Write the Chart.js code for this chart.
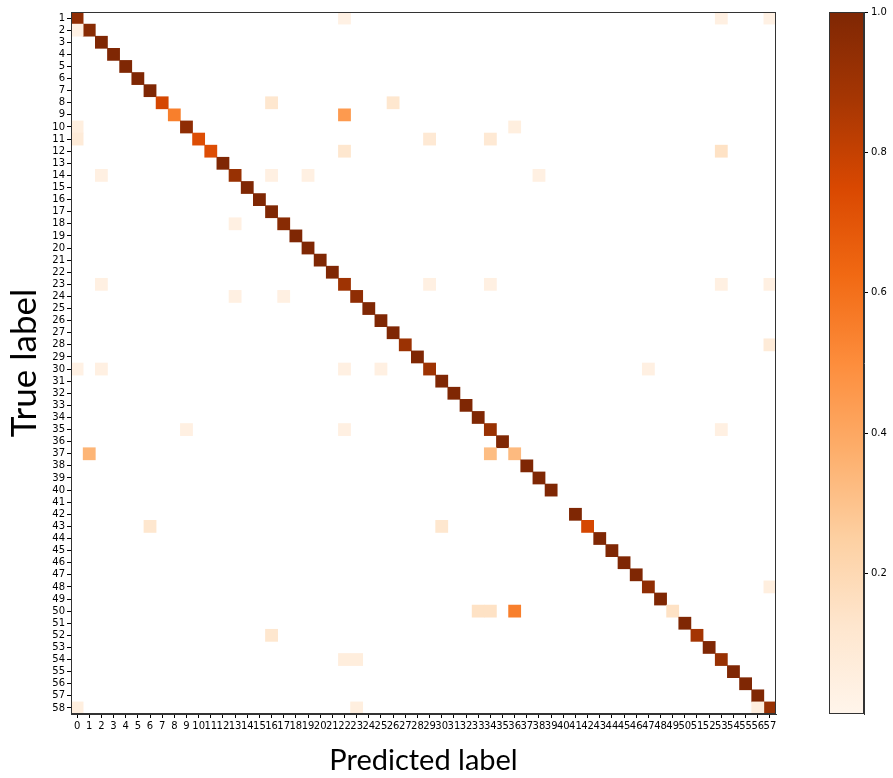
<!DOCTYPE html>
<html><head><meta charset="utf-8">
<script src="https://cdn.jsdelivr.net/npm/chart.js@4.4.1/dist/chart.umd.min.js"></script>
<style>
html,body{margin:0;padding:0;background:#fff;}
#wrap{position:relative;width:893px;height:778px;overflow:hidden;}
#main{position:absolute;left:0;top:0;}
#cbar{position:absolute;left:829px;top:0;}
</style></head><body>
<div id="wrap">
<canvas id="main" width="893" height="778"></canvas>
<canvas id="cbar" width="64" height="778"></canvas>
</div>
<script>
// ---- data ----
const trueLabels = [1,2,3,4,5,6,7,8,9,10,11,12,13,14,15,16,17,18,19,20,21,22,23,24,25,26,27,28,29,30,
  31,32,33,34,35,36,37,38,39,40,41,42,43,44,45,46,47,48,49,50,51,52,53,54,55,56,57,58];
const predLabels = [0,1,2,3,4,5,6,7,8,9,10,11,12,13,14,15,16,17,18,19,20,21,22,23,24,25,26,27,28,29,
  30,31,32,33,34,35,36,37,38,39,40,41,42,43,44,45,46,47,48,49,50,51,52,53,54,55,56,57];
// value on the diagonal (true label i+1 predicted as i); null = empty row
const diagonalValues = [0.95,0.97,1,1,1,1,1,0.76,0.55,0.95,0.73,0.73,1,0.92,1,1,1,0.97,1,1,
  1,1,0.9,0.95,1,1,1,0.91,1,0.9,1,1,1,1,0.92,1,0.33,1,1,1,
  null,1,0.76,1,1,1,1,0.95,1,0.15,1,0.88,1,0.92,1,1,1,0.92];
// off-diagonal cells: [true label, predicted label, value]
const offDiagonal = [
  [1,22,0.03],[1,53,0.04],[1,57,0.03],
  [2,0,0.03],
  [8,16,0.12],[8,26,0.12],
  [9,22,0.45],
  [10,0,0.05],[10,36,0.05],
  [11,0,0.08],[11,29,0.1],[11,34,0.1],
  [12,22,0.12],[12,53,0.15],
  [14,2,0.04],[14,16,0.04],[14,19,0.04],[14,38,0.04],
  [18,13,0.04],
  [23,2,0.04],[23,29,0.04],[23,34,0.04],[23,53,0.04],[23,57,0.04],
  [24,13,0.04],[24,17,0.04],
  [28,57,0.08],
  [30,0,0.03],[30,2,0.04],[30,22,0.04],[30,25,0.04],[30,47,0.04],
  [35,9,0.04],[35,22,0.04],[35,53,0.04],
  [37,1,0.35],[37,34,0.32],
  [43,6,0.12],[43,30,0.12],
  [48,57,0.05],
  [50,33,0.15],[50,34,0.15],[50,36,0.55],
  [52,16,0.12],
  [54,22,0.06],[54,23,0.06],
  [58,0,0.05],[58,23,0.05],[58,56,0.05]
];
const colorbarTicks = [0.2,0.4,0.6,0.8,1.0];

// ---- matplotlib "Oranges" colormap ----
const ORANGES = [[255,245,235],[254,230,206],[253,208,162],[253,174,107],[253,141,60],
  [241,105,19],[217,72,1],[166,54,3],[127,39,4]];
function rgb(c){ return 'rgb(' + c.map(Math.round).join(',') + ')'; }
function orange(v){
  const t = Math.max(0, Math.min(1, v)) * 8;
  const i = Math.min(7, Math.floor(t));
  const f = t - i;
  const a = ORANGES[i], b = ORANGES[i+1];
  return rgb([0,1,2].map(k => a[k] + (b[k]-a[k]) * f));
}

// ---- cells ----
const cells = [];
trueLabels.forEach((t, i) => {
  const v = diagonalValues[i];
  if (v !== null) cells.push({x: predLabels[i], y: [t - 0.5, t + 0.5], v: v});
});
offDiagonal.forEach(([t, p, v]) => cells.push({x: p, y: [t - 0.5, t + 0.5], v: v}));

const framePlugin = {
  id: 'frame',
  afterDatasetsDraw(chart){
    const {ctx, chartArea: a} = chart;
    ctx.save();
    ctx.strokeStyle = '#333';
    ctx.lineWidth = 1;
    ctx.strokeRect(Math.round(a.left) + 0.5, Math.round(a.top) + 0.5,
      Math.round(a.right - a.left) - 1, Math.round(a.bottom - a.top) - 1);
    ctx.restore();
  }
};

const tickFont = {family: 'DejaVu Sans', size: 10};

new Chart(document.getElementById('main'), {
  type: 'bar',
  data: {
    datasets: [{
      data: cells,
      backgroundColor: c => orange(c.raw ? c.raw.v : 0),
      borderWidth: 0,
      categoryPercentage: 1,
      barPercentage: 1
    }]
  },
  options: {
    responsive: false,
    animation: false,
    layout: {padding: {left: 0, top: 12, right: 117, bottom: 0}},
    plugins: {legend: {display: false}, tooltip: {enabled: false}},
    scales: {
      x: {
        type: 'linear', min: -0.5, max: 57.5, offset: false,
        grid: {display: true, drawOnChartArea: false, drawTicks: true, tickLength: 4, color: '#000', offset: false},
        border: {display: true, color: '#333', width: 1},
        ticks: {autoSkip: false, maxRotation: 0, minRotation: 0, font: tickFont, color: '#000', padding: 2,
          callback: v => String(v)},
        afterBuildTicks: s => { s.ticks = predLabels.map(v => ({value: v})); },
        afterFit: s => { s.height = 64; },
        title: {display: true, text: 'Predicted label', font: {family: 'Lato', size: 29}, color: '#000', padding: {top: 0, bottom: 0}}
      },
      y: {
        type: 'linear', min: 0.5, max: 58.5, reverse: true, offset: false,
        grid: {display: true, drawOnChartArea: false, drawTicks: true, tickLength: 4, color: '#000', offset: false},
        border: {display: true, color: '#333', width: 1},
        ticks: {autoSkip: false, font: tickFont, color: '#000', padding: 2, callback: v => String(v)},
        afterBuildTicks: s => { s.ticks = trueLabels.map(v => ({value: v})); },
        afterFit: s => { s.width = 71; },
        title: {display: true, text: 'True label', font: {family: 'Lato', size: 35}, color: '#000', padding: {top: 4, bottom: 0}}
      }
    }
  },
  plugins: [framePlugin]
});

new Chart(document.getElementById('cbar'), {
  type: 'bar',
  data: {
    labels: [''],
    datasets: [{
      data: [[0, 1]],
      backgroundColor: c => {
        const ch = c.chart;
        if (!ch.chartArea) return '#fff';
        const y = ch.scales.y;
        const g = ch.ctx.createLinearGradient(0, y.getPixelForValue(0), 0, y.getPixelForValue(1));
        ORANGES.forEach((col, i) => g.addColorStop(i / 8, rgb(col)));
        return g;
      },
      borderWidth: 0,
      categoryPercentage: 1,
      barPercentage: 1
    }]
  },
  options: {
    responsive: false,
    animation: false,
    layout: {padding: {left: 0, top: 12, right: 0, bottom: 64}},
    plugins: {legend: {display: false}, tooltip: {enabled: false}},
    scales: {
      x: {display: false},
      y: {
        position: 'right', min: 0, max: 1,
        grid: {display: true, drawOnChartArea: false, drawTicks: true, tickLength: 4, color: '#000'},
        border: {display: true, color: '#333', width: 1},
        ticks: {font: tickFont, color: '#000', padding: 3, callback: v => v.toFixed(1)},
        afterBuildTicks: s => { s.ticks = colorbarTicks.map(v => ({value: v})); },
        afterFit: s => { s.width = 29; }
      }
    }
  },
  plugins: [framePlugin]
});
</script>
</body></html>
